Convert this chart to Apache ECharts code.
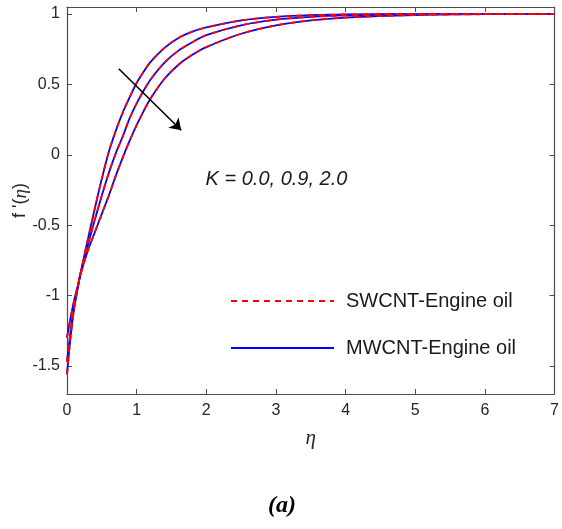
<!DOCTYPE html>
<html>
<head>
<meta charset="utf-8">
<style>
  html, body { margin: 0; padding: 0; background: #ffffff; }
  #chart { width: 562px; height: 529px; }
</style>
<script src="https://cdn.jsdelivr.net/npm/echarts@6.0.0/dist/echarts.min.js"></script>
</head>
<body>
<div id="chart"></div>
<script>
// Similarity variable eta and velocity profiles f'(eta) for K = 0.0, 0.9, 2.0
var eta = [0, 0.05, 0.1, 0.15, 0.2, 0.3, 0.4, 0.5, 0.6, 0.7, 0.8, 0.9, 1.0, 1.1, 1.2, 1.4, 1.6, 1.8, 2.0, 2.5, 3.0, 3.5, 4.0, 5.0, 6.0, 7.0];
var fK00 = [-1.56, -1.30, -1.10, -0.96, -0.83, -0.60, -0.38, -0.17, 0.02, 0.17, 0.30, 0.41, 0.51, 0.59, 0.66, 0.76, 0.83, 0.875, 0.905, 0.955, 0.98, 0.992, 0.997, 1.0, 1.0, 1.0];
var fK09 = [-1.47, -1.26, -1.08, -0.95, -0.83, -0.64, -0.46, -0.29, -0.13, 0.01, 0.13, 0.26, 0.365, 0.455, 0.535, 0.655, 0.74, 0.80, 0.85, 0.92, 0.96, 0.98, 0.99, 0.998, 1.0, 1.0];
var fK20 = [-1.30, -1.16, -1.04, -0.94, -0.84, -0.68, -0.55, -0.42, -0.29, -0.15, -0.02, 0.10, 0.21, 0.31, 0.40, 0.54, 0.64, 0.71, 0.765, 0.86, 0.92, 0.955, 0.975, 0.993, 0.999, 1.0];

var xTicks = [0, 1, 2, 3, 4, 5, 6, 7];
var yTicks = [-1.5, -1, -0.5, 0, 0.5, 1];

var swName = 'SWCNT-Engine oil';
var mwName = 'MWCNT-Engine oil';

// Arrow marking the direction of increasing K
var arrowFrom = [0.743, 0.611];
var arrowTo = [1.64, 0.174];
var kLabelAnchor = [1.99, -0.18];

function pairs(ys) {
  return eta.map(function (x, i) { return [x, ys[i]]; });
}

var profiles = [fK00, fK09, fK20];
var series = [];
profiles.forEach(function (ys) {
  series.push({
    name: mwName, type: 'line', data: pairs(ys), smooth: 0.3, symbol: 'none',
    lineStyle: { color: '#0000ff', width: 1.8, type: 'solid' },
    itemStyle: { color: '#0000ff' }, z: 2
  });
});
profiles.forEach(function (ys) {
  series.push({
    name: swName, type: 'line', data: pairs(ys), smooth: 0.3, symbol: 'none',
    lineStyle: { color: '#ff0000', width: 1.8, type: [6, 5] },
    itemStyle: { color: '#ff0000' }, z: 3
  });
});
series.push({
  type: 'lines', coordinateSystem: 'cartesian2d', silent: true, z: 4,
  symbol: ['none', 'arrow'], symbolSize: [0, 11],
  lineStyle: { color: '#000000', width: 1.6, opacity: 1, curveness: 0 },
  data: [{ coords: [arrowFrom, arrowTo] }]
});

var axisCol = '#4d4d4d';
var tickFont = { fontFamily: 'Liberation Sans', fontSize: 16, color: '#262626' };
function frameLine() {
  return { show: true, onZero: false, lineStyle: { color: axisCol, width: 1.2 } };
}
function innerTicks(values) {
  var t = { show: true, inside: true, length: 5, lineStyle: { color: axisCol } };
  if (values) t.customValues = values;
  return t;
}

var chart = echarts.init(document.getElementById('chart'), null, { renderer: 'canvas' });
chart.setOption({
  backgroundColor: '#ffffff',
  animation: false,
  grid: { left: 67, right: 5, top: 7, bottom: 135, show: false },
  legend: {
    orient: 'vertical', left: 225, top: 286, itemGap: 27,
    itemWidth: 103, itemHeight: 14,
    data: [swName, mwName],
    itemStyle: { opacity: 0, borderWidth: 0 },
    textStyle: { fontFamily: 'Liberation Sans', fontSize: 20, color: '#1a1a1a', lineHeight: 20, padding: [0, 0, 0, 7] }
  },
  xAxis: [{
    type: 'value', min: 0, max: 7, interval: 1, position: 'bottom',
    name: 'η', nameLocation: 'middle', nameGap: 34, nameMoveOverlap: false,
    nameTextStyle: { fontFamily: 'Liberation Serif', fontStyle: 'italic', fontSize: 21, color: '#262626' },
    axisLine: frameLine(),
    axisTick: innerTicks(),
    axisLabel: Object.assign({ margin: 9, customValues: xTicks }, tickFont),
    splitLine: { show: false }
  }, {
    type: 'value', min: 0, max: 7, interval: 1, position: 'top',
    axisLine: frameLine(),
    axisTick: innerTicks(),
    axisLabel: { show: false }, splitLine: { show: false }
  }],
  yAxis: [{
    type: 'value', min: -1.7, max: 1.05, position: 'left',
    name: "{u|f '(}{i|η}{u|)}", nameLocation: 'middle', nameGap: 37, nameRotate: 90,
    nameMoveOverlap: false,
    nameTextStyle: {
      rich: {
        u: { fontFamily: 'Liberation Sans', fontSize: 18, color: '#262626' },
        i: { fontFamily: 'Liberation Serif', fontStyle: 'italic', fontSize: 19, color: '#262626' }
      }
    },
    axisLine: frameLine(),
    axisTick: innerTicks(yTicks),
    axisLabel: Object.assign({ margin: 7, customValues: yTicks }, tickFont),
    splitLine: { show: false }
  }, {
    type: 'value', min: -1.7, max: 1.05, position: 'right',
    axisLine: frameLine(),
    axisTick: innerTicks(yTicks),
    axisLabel: { show: false }, splitLine: { show: false }
  }],
  series: series
});

var kPos = chart.convertToPixel({ gridIndex: 0 }, kLabelAnchor);
chart.setOption({
  graphic: [{
    type: 'text', left: kPos[0], top: kPos[1] - 11, z: 10,
    style: { text: 'K = 0.0, 0.9, 2.0', font: 'italic 20px "Liberation Sans"', fill: '#1a1a1a' }
  }, {
    type: 'text', left: 268, top: 494, z: 10,
    style: { text: '(a)', font: 'italic bold 24px "Liberation Serif"', fill: '#000000' }
  }]
});
</script>
</body>
</html>
